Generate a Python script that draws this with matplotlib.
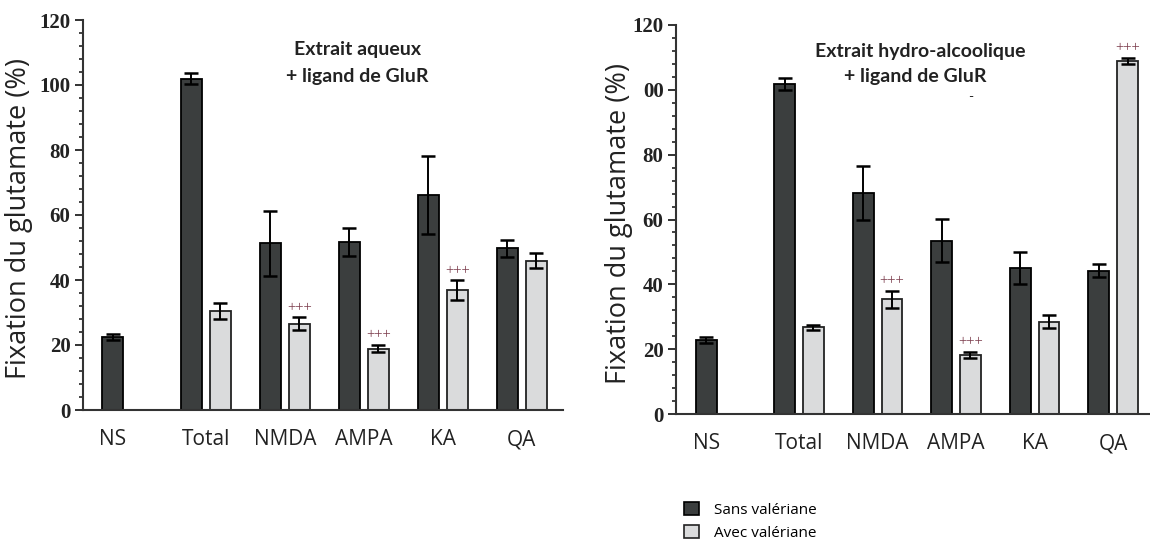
import matplotlib
matplotlib.use("Agg")
import matplotlib.pyplot as plt
from matplotlib.patches import Patch
from matplotlib.ticker import MultipleLocator, FixedLocator
import numpy as np

categories = ["NS", "Total", "NMDA", "AMPA", "KA", "QA"]

# Left panel: Extrait aqueux
aq_sans = [22.4, 102.0, 51.3, 51.7, 66.2, 49.7]
aq_sans_err = [1.0, 1.6, 10.0, 4.3, 12.0, 2.6]
aq_avec = [None, 30.5, 26.5, 18.9, 36.9, 46.0]
aq_avec_err = [None, 2.5, 2.0, 1.2, 3.0, 2.3]
aq_sig = ["", "", "+++", "+++", "+++", ""]

# Right panel: Extrait hydro-alcoolique
ha_sans = [22.7, 101.8, 68.2, 53.5, 45.1, 44.2]
ha_sans_err = [0.9, 1.9, 8.2, 6.6, 5.0, 2.0]
ha_avec = [None, 26.7, 35.4, 18.2, 28.5, 108.9]
ha_avec_err = [None, 0.7, 2.6, 1.0, 2.0, 1.0]
ha_sig = ["", "", "+++", "+++", "", "+++"]

yticks = [0, 20, 40, 60, 80, 100, 120]
left_yticklabels = ["0", "20", "40", "60", "80", "100", "120"]
right_yticklabels = ["0", "20", "40", "60", "80", "00", "120"]

legend_labels = ["Sans valériane", "Avec valériane"]
ylabel = "Fixation du glutamate (%)"

DARK = "#3b3e3e"
LIGHT = "#dadbdc"
SIGC = "#7a3a4a"
SANS = ["Lato", "DejaVu Sans"]
OPEN = ["Open Sans", "DejaVu Sans"]
SERIF = ["Liberation Serif", "DejaVu Serif"]

fig = plt.figure(figsize=(11.5, 5.45), dpi=100)
W, H = 1150, 545

def make_axes(x0, x1, y0px, y120px, xlim):
    ax = fig.add_axes([x0 / W, (H - y0px) / H, (x1 - x0) / W, (y0px - y120px) / H])
    ax.set_xlim(*xlim)
    ax.set_ylim(0, 120)
    return ax

axL = make_axes(83, 563, 410, 20, (-0.557, 5.52))
axR = make_axes(676, 1150, 414, 25, (-0.567, 5.47))

off = 0.1835
bw = 0.265

def draw(ax, sans, sans_err, avec, avec_err, sig, ytl, title1, title2, t_pos, ylab_pos):
    pos = np.arange(len(categories))
    for i in range(len(categories)):
        ax.bar(pos[i] - off, sans[i], bw, color=DARK, edgecolor="black", linewidth=1.3, zorder=2)
        ax.errorbar(pos[i] - off, sans[i], yerr=sans_err[i], fmt="none", ecolor="black",
                    elinewidth=1.4, capsize=5, capthick=1.8, zorder=3)
        if avec[i] is not None:
            ax.bar(pos[i] + off, avec[i], bw, color=LIGHT, edgecolor="#222222", linewidth=1.3, zorder=2)
            ax.errorbar(pos[i] + off, avec[i], yerr=avec_err[i], fmt="none", ecolor="black",
                        elinewidth=1.4, capsize=5, capthick=1.8, zorder=3)
            if sig[i]:
                ax.text(pos[i] + off, avec[i] + avec_err[i] + 1.0, sig[i], ha="center", va="bottom",
                        fontsize=10.5, color=SIGC, family=SERIF)
    tickpos = [pos[0] - off] + list(pos[1:])
    ax.xaxis.set_major_locator(FixedLocator(tickpos))
    ax.set_xticklabels(categories, family=OPEN, fontsize=15, color="#222222")
    ax.tick_params(axis="x", length=0, pad=14)
    ax.yaxis.set_major_locator(FixedLocator(yticks))
    ax.set_yticklabels(ytl, family=SERIF, fontsize=15, fontweight="bold", color="#222222")
    ax.yaxis.set_minor_locator(MultipleLocator(4))
    ax.tick_params(axis="y", which="major", direction="out", length=6, width=1.3, pad=3, color="#222222")
    ax.tick_params(axis="y", which="minor", direction="out", length=3, width=1.2, color="#222222")
    for s in ["top", "right"]:
        ax.spines[s].set_visible(False)
    for s in ["left", "bottom"]:
        ax.spines[s].set_linewidth(1.5)
        ax.spines[s].set_color("#333333")
    ax.set_ylabel(ylabel, family=OPEN, fontsize=19.5, color="#222222")
    ax.yaxis.set_label_coords(*ylab_pos)
    ax.text(t_pos[0], t_pos[1], title1, ha="center", va="center", family=SANS,
            fontsize=14, fontweight="bold", color="#222222")
    ax.text(t_pos[2], t_pos[3], title2, ha="center", va="center", family=SANS,
            fontsize=14, fontweight="bold", color="#222222")

draw(axL, aq_sans, aq_sans_err, aq_avec, aq_avec_err, aq_sig, left_yticklabels,
     "Extrait aqueux", "+ ligand de GluR", (2.92, 110.8, 2.92, 102.5), (-0.104, 0.49))
draw(axR, ha_sans, ha_sans_err, ha_avec, ha_avec_err, ha_sig, right_yticklabels,
     "Extrait hydro-alcoolique", "+ ligand de GluR", (2.54, 111.7, 2.48, 104.0), (-0.091, 0.49))
axR.text(3.18, 97.8, "-", ha="center", va="center", family=SANS, fontsize=10, color="#222222")

handles = [Patch(facecolor=DARK, edgecolor="black", linewidth=1.2),
           Patch(facecolor=LIGHT, edgecolor="#222222", linewidth=1.2)]
fig.legend(handles, legend_labels, loc="upper left", bbox_to_anchor=(676 / W, (H - 494) / H),
           frameon=False, prop={"family": OPEN, "size": 11}, handlelength=1.0, handleheight=1.0,
           handletextpad=1.0, labelspacing=0.45, borderpad=0)

fig.savefig("out.png", dpi=100)
